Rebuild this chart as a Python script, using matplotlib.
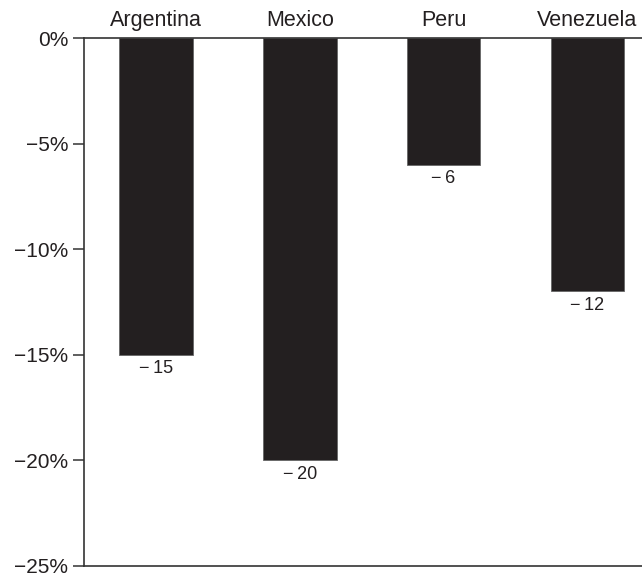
import matplotlib.pyplot as plt
import numpy as np

countries = ['Argentina', 'Mexico', 'Peru', 'Venezuela']
change = [-15, -20, -6, -12]
yticks = [0, -5, -10, -15, -20, -25]

plt.rcParams['font.family'] = ['Liberation Sans', 'DejaVu Sans']

fig = plt.figure(figsize=(6.42, 5.77), dpi=100)
ax = fig.add_axes([0.1308, 0.0195, 0.8692, 0.9146])

x = np.arange(len(countries))
ax.bar(x, change, width=0.511, color='#231f20', edgecolor='#666666', linewidth=0.6)

for xi, v in zip(x, change):
    ax.annotate('\u2212\u2009' + str(abs(v)), (xi, v), xytext=(0, -4), textcoords='offset points',
                ha='center', va='top', fontsize=13, color='#231f20')

ax.set_xlim(-0.50, 3.379)
ax.set_ylim(-25, 0)
ax.set_yticks(yticks)
ax.set_yticklabels([('\u2212' if t < 0 else '') + str(abs(t)) + '%' for t in yticks], fontsize=15)
ax.tick_params(axis='y', length=8, width=1.1, color='#333333', pad=3.5, labelcolor='#231f20')

ax.xaxis.tick_top()
ax.set_xticks(x)
ax.set_xticklabels(countries, fontsize=15.5, color='#231f20')
ax.tick_params(axis='x', length=0, pad=5)

ax.spines['right'].set_visible(False)
for s in ['left', 'top', 'bottom']:
    ax.spines[s].set_color('#333333')
    ax.spines[s].set_linewidth(1.2)

fig.savefig('out.png', dpi=100)
